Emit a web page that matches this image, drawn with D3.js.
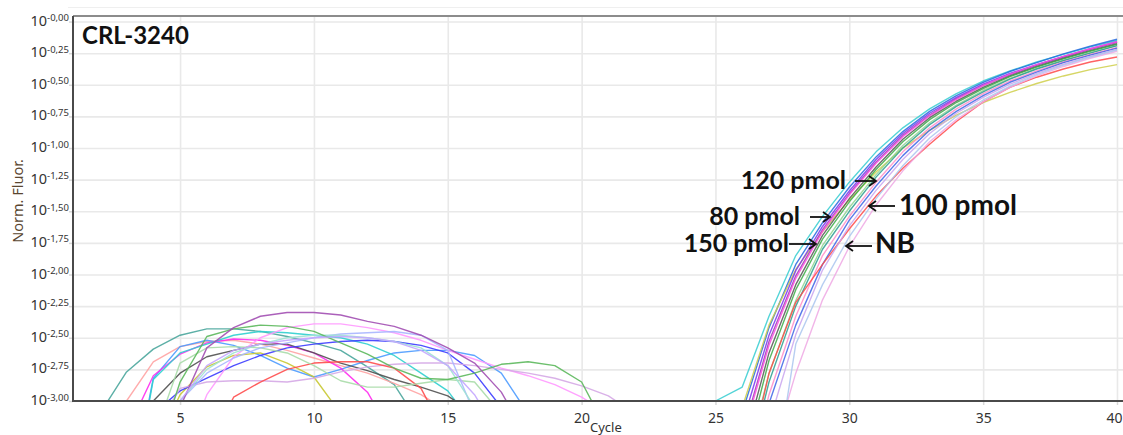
<!DOCTYPE html>
<html><head><meta charset="utf-8">
<script src="https://cdn.jsdelivr.net/npm/d3@7"></script>
<style>html,body{margin:0;padding:0;background:#fff;overflow:hidden}</style>
</head><body><svg id="c" width="1123" height="435"></svg>
<script>
// ---------- DATA ----------
const xTicks = [5, 10, 15, 20, 25, 30, 35, 40];
const yTicks = [-3, -2.75, -2.5, -2.25, -2, -1.75, -1.5, -1.25, -1, -0.75, -0.5, -0.25, 0];
const chartTitle = "CRL-3240";
const xTitle = "Cycle";
const yTitle = "Norm. Fluor.";

// amplification curves: log10 normalised fluorescence, one value per cycle from the start cycle
const ampStarts = [25, 26, 26, 26, 26, 26, 26, 26, 26, 26, 26, 26, 26, 27, 27, 27];
const ampCyan      = [-3.0,-2.89,-2.33,-1.85,-1.54,-1.27,-1.03,-0.84,-0.69,-0.57,-0.47,-0.39,-0.32,-0.26,-0.20,-0.15];
const ampBlue      = [-3.09,-2.42,-1.92,-1.59,-1.31,-1.07,-0.87,-0.71,-0.585,-0.48,-0.395,-0.325,-0.255,-0.195,-0.14];
const ampYellow    = [-3.05,-2.40,-1.96,-1.66,-1.41,-1.19,-1.00,-0.86,-0.74,-0.64,-0.56,-0.49,-0.43,-0.38,-0.34];
const ampViolet    = [-3.18,-2.48,-1.97,-1.62,-1.34,-1.09,-0.885,-0.725,-0.60,-0.495,-0.41,-0.34,-0.275,-0.215,-0.16];
const ampPurple    = [-3.27,-2.53,-2.01,-1.645,-1.36,-1.11,-0.90,-0.74,-0.61,-0.505,-0.42,-0.345,-0.28,-0.22,-0.165];
const ampMagenta   = [-3.30,-2.56,-2.03,-1.66,-1.37,-1.12,-0.91,-0.745,-0.615,-0.505,-0.415,-0.34,-0.275,-0.215,-0.16];
const ampGray      = [-3.40,-2.62,-2.08,-1.69,-1.40,-1.15,-0.93,-0.76,-0.63,-0.52,-0.43,-0.355,-0.29,-0.23,-0.175];
const ampGreen     = [-3.50,-2.68,-2.12,-1.72,-1.425,-1.17,-0.95,-0.775,-0.64,-0.53,-0.435,-0.36,-0.295,-0.235,-0.18];
const ampLightGreen= [-3.60,-2.785,-2.205,-1.77,-1.47,-1.21,-0.98,-0.80,-0.66,-0.545,-0.45,-0.37,-0.305,-0.245,-0.19];
const ampTeal      = [-3.70,-2.85,-2.25,-1.80,-1.50,-1.23,-1.00,-0.815,-0.67,-0.555,-0.455,-0.375,-0.31,-0.25,-0.19];
const ampPink      = [-3.80,-2.95,-2.33,-1.85,-1.54,-1.27,-1.03,-0.84,-0.69,-0.57,-0.47,-0.39,-0.32,-0.26,-0.205];
const ampBlue2     = [-3.90,-3.02,-2.40,-1.92,-1.57,-1.30,-1.06,-0.86,-0.71,-0.585,-0.48,-0.40,-0.325,-0.265,-0.21];
const ampRed       = [-3.70,-2.78,-2.22,-1.92,-1.64,-1.38,-1.16,-0.97,-0.79,-0.635,-0.52,-0.44,-0.375,-0.32,-0.28];
const ampLavender  = [-3.175,-2.475,-1.965,-1.615,-1.335,-1.09,-0.885,-0.725,-0.60,-0.495,-0.41,-0.3375,-0.275,-0.22];
const ampLightPink = [-3.5,-2.78,-2.20,-1.78,-1.45,-1.18,-0.95,-0.775,-0.635,-0.52,-0.43,-0.355,-0.29,-0.235];
const ampLightBlue = [-3.9,-2.55,-2.08,-1.70,-1.40,-1.14,-0.92,-0.75,-0.62,-0.51,-0.42,-0.345,-0.28,-0.225];
const ampSeries = [ampCyan, ampBlue, ampYellow, ampViolet, ampPurple, ampMagenta, ampGray, ampGreen,
  ampLightGreen, ampTeal, ampPink, ampBlue2, ampRed, ampLavender, ampLightPink, ampLightBlue];

// background (no-template-like) curves
const noiseStarts = [2, 3, 3, 3, 3, 4, 4, 4, 5, 4, 6, 4, 4, 4, 4, 5, 4];
const nTeal      = [-3.10,-2.77,-2.59,-2.48,-2.43,-2.43,-2.45,-2.49,-2.54,-2.60,-2.73,-2.87,-3.20];
const nSalmon    = [-3.0,-2.69,-2.57,-2.53,-2.52,-2.55,-2.60,-2.66,-2.72,-2.78,-2.86,-2.95,-3.08];
const nSky       = [-3.9,-2.82,-2.57,-2.52,-2.56,-2.64,-2.74,-2.81,-2.75,-2.68,-2.62,-2.60,-2.60,-2.64,-2.78,-3.10];
const nMagenta   = [-3.25,-2.80,-2.63,-2.54,-2.51,-2.52,-2.56,-2.62,-2.74,-2.93,-3.30];
const nCyan      = [-4.0,-2.83,-2.62,-2.55,-2.48,-2.45,-2.46,-2.48,-2.50,-2.55,-2.64,-2.78,-2.92,-3.20];
const nGray      = [-3.0,-2.78,-2.65,-2.60,-2.55,-2.55,-2.62,-2.70,-2.76,-2.83,-2.89,-2.96,-3.10];
const nYellow    = [-3.4,-2.95,-2.73,-2.64,-2.62,-2.70,-2.81,-3.10];
const nBlueViolet= [-3.1,-2.92,-2.82,-2.72,-2.64,-2.58,-2.55,-2.53,-2.52,-2.53,-2.56,-2.62,-2.78,-3.05];
const nLightPink = [-3.5,-2.95,-2.65,-2.50,-2.42,-2.39,-2.39,-2.42,-2.46,-2.52,-2.60,-2.67,-2.74,-2.80,-2.87,-2.97,-3.10];
const nLavender  = [-3.25,-2.90,-2.85,-2.84,-2.84,-2.85,-2.82,-2.77,-2.73,-2.71,-2.70,-2.70,-2.72,-2.75,-2.78,-2.82,-2.88,-2.96,-3.10];
const nRed       = [-3.4,-2.97,-2.85,-2.75,-2.70,-2.69,-2.69,-2.74,-2.90,-3.30];
const nLightGreen= [-3.3,-2.70,-2.58,-2.57,-2.58,-2.62,-2.72,-2.84,-2.89,-2.89,-2.86,-2.83,-2.85,-3.10];
const nPeriwinkle= [-3.3,-3.0,-2.78,-2.66,-2.58,-2.54,-2.50,-2.47,-2.46,-2.45,-2.48,-2.60,-3.10];
const nMint      = [-3.4,-3.0,-2.75,-2.62,-2.55,-2.50,-2.48,-2.48,-2.50,-2.53,-2.58,-2.72,-3.05];
const nGreen     = [-3.5,-2.85,-2.49,-2.43,-2.40,-2.41,-2.45,-2.54,-2.63,-2.74,-2.82,-2.83,-2.78,-2.71,-2.69,-2.72,-2.85,-3.25];
const nPurple    = [-3.05,-2.58,-2.42,-2.33,-2.30,-2.30,-2.32,-2.37,-2.41,-2.48,-2.58,-2.70,-2.93,-3.30];
const nLightViolet=[-3.3,-3.0,-2.72,-2.60,-2.55,-2.52,-2.50,-2.49,-2.50,-2.53,-2.60,-2.72,-2.95,-3.30];
const noiseSeries = [nTeal, nSalmon, nSky, nMagenta, nCyan, nGray, nYellow, nBlueViolet, nLightPink,
  nLavender, nRed, nLightGreen, nPeriwinkle, nMint, nGreen, nPurple, nLightViolet];

// annotation labels
const annLabels = ["120 pmol", "80 pmol", "150 pmol", "100 pmol", "NB"];

// ---------- STYLE ----------
const ampColors = ["#35cdd0","#2468de","#cfcf4a","#7a32f0","#9a3cb8","#ff4fe0","#555555","#3daa48",
  "#8fd38f","#2a9d8f","#ff8cc8","#3d64e6","#ff4848","#c9a4ee","#efa8e4","#aac6ee"];
const noiseColors = ["#4aa69c","#ffa3a3","#4d9bff","#ff2bf0","#2fcfcf","#505050","#c8c832","#3c3cff",
  "#ff99ff","#d5a8e6","#ff4d4d","#a8dca8","#a9b6ff","#9fe2d4","#5cb85c","#a24fb2","#c4a6ff"];

const W = 1123, H = 435, L = 73, R = 1117, T = 16, B = 401;
const x = d3.scaleLinear().domain([1, 40]).range([L, R]);
const y = d3.scaleLinear().domain([-3, 0.044]).range([B, T]);
const svg = d3.select("#c");
const tickFont = "'Segoe UI','Noto Sans',sans-serif";

svg.append("line").attr("x1", 68).attr("x2", W).attr("y1", 7.5).attr("y2", 7.5)
  .attr("stroke", "#efefef").attr("stroke-width", 1);

// grid (vertical)
const gGridX = svg.append("g").attr("transform", `translate(0,${B})`)
  .call(d3.axisBottom(x).tickValues(xTicks).tickSize(-(B - T)).tickSizeOuter(0).tickFormat(""));
gGridX.select(".domain").remove();
gGridX.selectAll("line").attr("stroke", "#e9e9e9").attr("stroke-width", 1.6);
// grid (horizontal)
const gGridY = svg.append("g").attr("transform", `translate(${L},0)`)
  .call(d3.axisRight(y).tickValues(yTicks.filter(v => v > -3)).tickSize(W - L).tickSizeOuter(0).tickFormat(""));
gGridY.select(".domain").remove();
gGridY.selectAll("line").attr("stroke", "#e9e9e9").attr("stroke-width", 1.6);

// clip
svg.append("clipPath").attr("id", "clip").append("rect")
  .attr("x", L).attr("y", T).attr("width", R - L + 1).attr("height", B - T);

const line = d3.line().x(d => x(d.c)).y(d => y(d.v));
const toPts = (arr, s) => arr.map((v, i) => ({ c: s + i, v }));

const gLines = svg.append("g").attr("clip-path", "url(#clip)");
gLines.selectAll("path.n").data(noiseSeries).join("path").attr("class", "n")
  .attr("d", (d, i) => line(toPts(d, noiseStarts[i])))
  .attr("fill", "none").attr("stroke", (d, i) => noiseColors[i])
  .attr("stroke-width", 1.4).attr("stroke-opacity", 0.9).attr("stroke-linejoin", "round");
gLines.selectAll("path.a").data(ampSeries).join("path").attr("class", "a")
  .attr("d", (d, i) => line(toPts(d, ampStarts[i])))
  .attr("fill", "none").attr("stroke", (d, i) => ampColors[i])
  .attr("stroke-width", 1.4).attr("stroke-opacity", 0.85).attr("stroke-linejoin", "round");

// x axis
const gx = svg.append("g").attr("transform", `translate(0,${B})`)
  .call(d3.axisBottom(x).tickValues(xTicks).tickSize(4).tickSizeOuter(0).tickFormat(d3.format("d")));
gx.select(".domain").remove();
gx.selectAll("line").attr("stroke", "#d8d8d8").attr("stroke-width", 1.5);
gx.selectAll("text").attr("y", 22).attr("dy", 0).attr("font-family", tickFont)
  .attr("font-size", 14).attr("fill", "#333")
  .filter(d => d === xTicks[xTicks.length - 1]).attr("text-anchor", "end").attr("x", 5);

// y axis
const gy = svg.append("g").attr("transform", `translate(${L},0)`)
  .call(d3.axisLeft(y).tickValues(yTicks).tickSize(4).tickSizeOuter(0).tickFormat(""));
gy.select(".domain").remove();
gy.selectAll("line").attr("stroke", "#d8d8d8").attr("stroke-width", 1.5);
gy.selectAll(".tick").each(function (d) {
  const t = d3.select(this).append("text").attr("x", -4).attr("y", 3.5)
    .attr("text-anchor", "end").attr("font-family", tickFont).attr("fill", "#333");
  t.append("tspan").attr("font-size", 14.5).text("10");
  t.append("tspan").attr("font-size", 9.5).attr("dy", -4.5)
    .text("-" + Math.abs(d).toFixed(2).replace(".", ","));
});

// frame
svg.append("line").attr("x1", L).attr("x2", W).attr("y1", T).attr("y2", T)
  .attr("stroke", "#8c8c8c").attr("stroke-width", 2);
svg.append("line").attr("x1", L).attr("x2", L).attr("y1", T).attr("y2", B + 1)
  .attr("stroke", "#4a4a4a").attr("stroke-width", 2);
svg.append("line").attr("x1", L).attr("x2", W).attr("y1", B).attr("y2", B)
  .attr("stroke", "#4a4a4a").attr("stroke-width", 2);

// axis titles
svg.append("text").attr("x", 590).attr("y", 432).attr("font-family", tickFont)
  .attr("font-size", 13).attr("fill", "#333").text(xTitle);
svg.append("text").attr("transform", "translate(23,201) rotate(-90)").attr("text-anchor", "middle")
  .attr("font-family", tickFont).attr("font-size", 14.5).attr("fill", "#5a4630").text(yTitle);

// title
const annFont = "Lato,'Open Sans',sans-serif";
svg.append("text").attr("x", 82).attr("y", 44).attr("font-family", annFont).attr("font-weight", "bold")
  .attr("font-size", 24).attr("fill", "#111").text(chartTitle);

// annotations
function ann(txt, tx, ty, size, anchor) {
  svg.append("text").attr("x", tx).attr("y", ty).attr("text-anchor", anchor)
    .attr("font-family", annFont).attr("font-weight", "bold").attr("font-size", size)
    .attr("fill", "#111").text(txt);
}
function arrow(x1, x2, yy) {
  const dir = x2 > x1 ? 1 : -1;
  svg.append("line").attr("x1", x1).attr("x2", x2).attr("y1", yy).attr("y2", yy)
    .attr("stroke", "#111").attr("stroke-width", 1.8);
  svg.append("path").attr("d", `M${x2 - dir * 7},${yy - 5}L${x2},${yy}L${x2 - dir * 7},${yy + 5}`)
    .attr("fill", "none").attr("stroke", "#111").attr("stroke-width", 1.8);
}
ann(annLabels[0], 846, 189, 25, "end");  arrow(855, 876, 181);
ann(annLabels[1], 800, 225, 25, "end");  arrow(810, 830, 217);
ann(annLabels[2], 789, 252, 25, "end");  arrow(789, 816, 244);
ann(annLabels[3], 899, 215, 28, "start"); arrow(895, 869, 206);
ann(annLabels[4], 875, 253, 28, "start"); arrow(872, 846, 246);
</script></body></html>
